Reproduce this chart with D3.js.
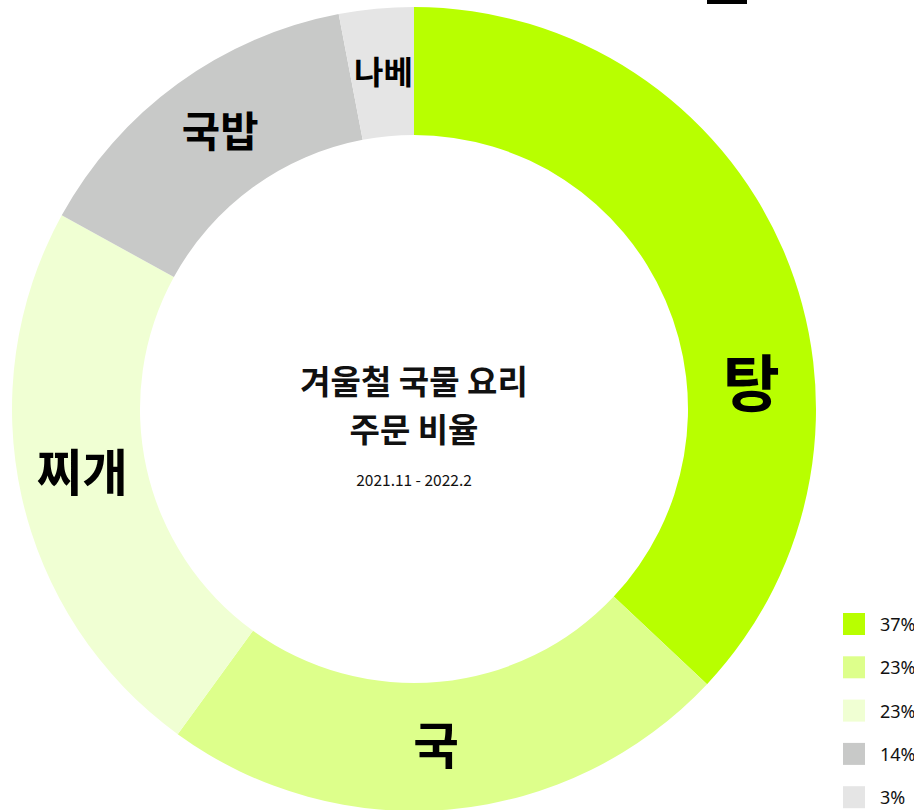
<!DOCTYPE html>
<html>
<head>
<meta charset="utf-8">
<script src="https://cdn.jsdelivr.net/npm/d3@7"></script>
<style>
  html, body { margin: 0; padding: 0; background: #fff; overflow: hidden; }
  svg { display: block; font-family: "Noto Sans CJK KR", "Noto Sans", sans-serif; }
</style>
</head>
<body>
<div id="donut"></div>
<script>
// menu categories and order share (%)
const categories = ['탕', '국', '찌개', '국밥', '나베'];
const shares = [37, 23, 23, 14, 3];
const legendLabels = ['37%', '23%', '23%', '14%', '3%'];
const colors = ['#b8ff00', '#ddff8b', '#f0ffd3', '#c8c9c8', '#e5e5e5'];

const titleLines = ['겨울철 국물 요리', '주문 비율'];
const subtitle = '2021.11 - 2022.2';

const full_width = 914;
const full_height = 810;
const cx = 414, cy = 409;
const outerR = 402, innerR = 274;

const svg = d3.select('#donut')
  .append('svg')
    .attr('width', full_width)
    .attr('height', full_height);

const data = categories.map((c, i) => ({name: c, value: shares[i], color: colors[i]}));

const pie = d3.pie().sort(null).value(d => d.value);
const arc = d3.arc().innerRadius(innerR).outerRadius(outerR);
const arcs = pie(data);

const g = svg.append('g').attr('transform', 'translate(' + cx + ',' + cy + ')');

g.selectAll('path.slice')
  .data(arcs)
  .enter()
  .append('path')
    .attr('class', 'slice')
    .attr('d', arc)
    .attr('fill', d => d.data.color);

// label size grows with the share
const fontSize = d3.scaleLinear().domain([3, 37]).range([32, 62]);
const labelR = (innerR + outerR) / 2;

g.selectAll('text.label')
  .data(arcs)
  .enter()
  .append('text')
    .attr('class', 'label')
    .attr('transform', d => {
      // the big first slice has its label pushed further round
      let f = d.index === 0 ? 0.645 : 0.52;
      let a = d.startAngle + (d.endAngle - d.startAngle) * f;
      return 'translate(' + (labelR * Math.sin(a)) + ',' + (-labelR * Math.cos(a)) + ')';
    })
    .attr('text-anchor', 'middle')
    .attr('dy', '0.36em')
    .attr('font-weight', 700)
    .attr('font-size', d => fontSize(d.value) + 'px')
    .attr('fill', '#000')
    .text(d => d.data.name);

// center title
g.selectAll('text.title')
  .data(titleLines)
  .enter()
  .append('text')
    .attr('class', 'title')
    .attr('x', 0)
    .attr('y', (d, i) => -15 + i * 48)
    .attr('text-anchor', 'middle')
    .attr('font-weight', 700)
    .attr('font-size', '33px')
    .attr('fill', '#111')
    .text(d => d);

g.append('text')
  .attr('x', 0)
  .attr('y', 77)
  .attr('text-anchor', 'middle')
  .attr('font-size', '15.5px')
  .attr('fill', '#111')
  .text(subtitle);

// legend
const legend = svg.append('g').attr('transform', 'translate(843,613)');
const row = legend.selectAll('g.item')
  .data(data)
  .enter()
  .append('g')
    .attr('class', 'item')
    .attr('transform', (d, i) => 'translate(0,' + (i * 43.3) + ')');

row.append('rect')
  .attr('width', 22)
  .attr('height', 22)
  .attr('fill', d => d.color);

row.append('text')
  .attr('x', 37)
  .attr('y', 11)
  .attr('dominant-baseline', 'central')
  .attr('font-family', '"Noto Sans", sans-serif')
  .attr('font-size', '18px')
  .attr('fill', '#111')
  .text((d, i) => legendLabels[i]);

// cut-off element at the top edge
svg.append('rect')
  .attr('x', 707)
  .attr('y', 0)
  .attr('width', 40)
  .attr('height', 4)
  .attr('fill', '#000');
</script>
</body>
</html>
